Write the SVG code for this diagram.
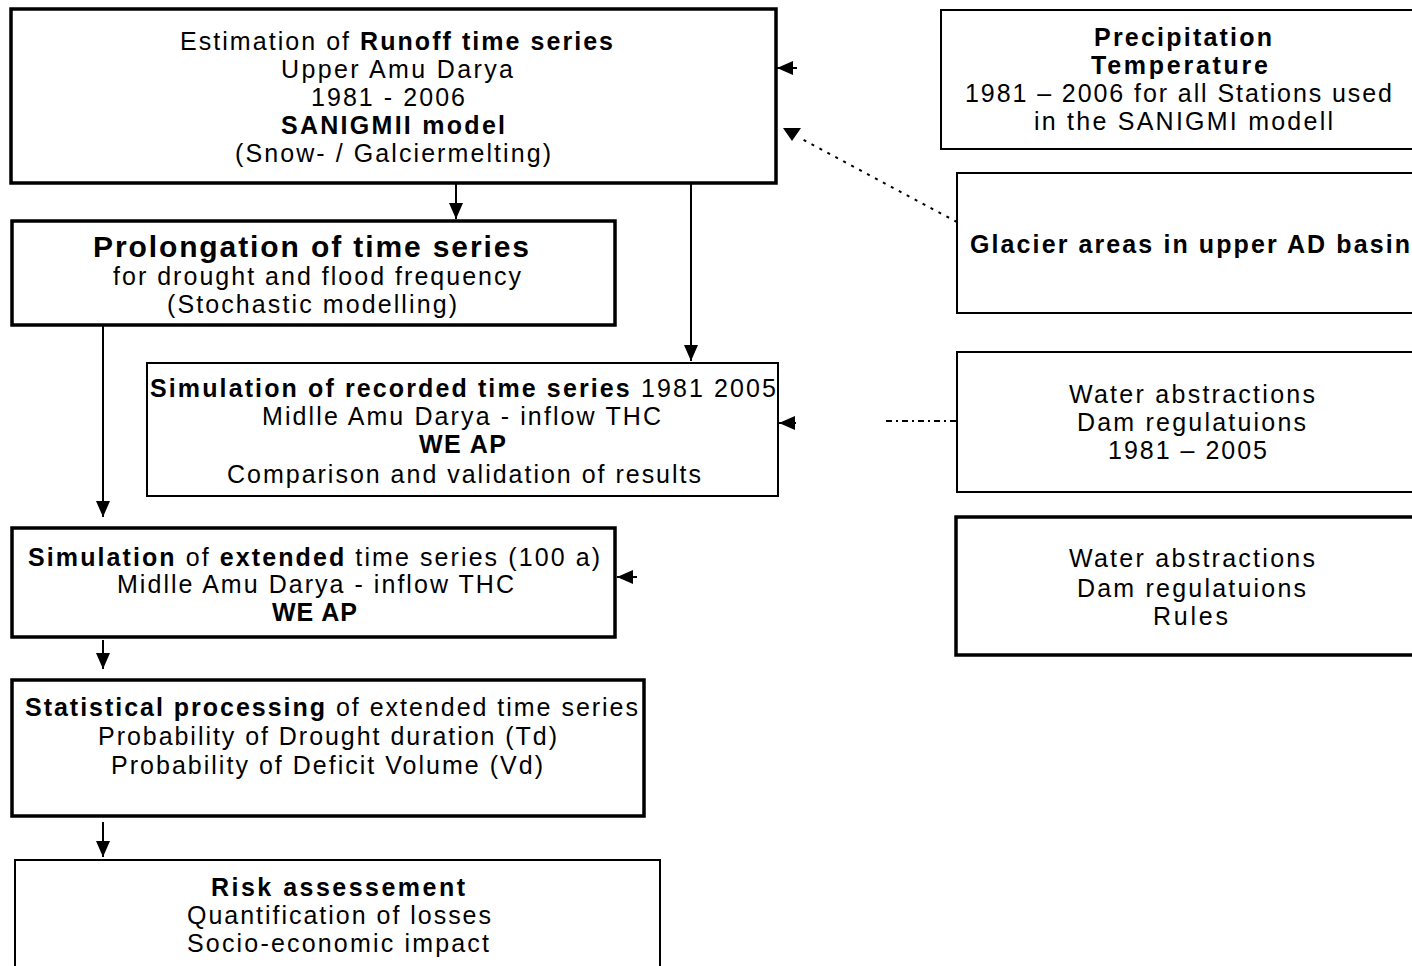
<svg xmlns="http://www.w3.org/2000/svg" width="1412" height="966" viewBox="0 0 1412 966">
<defs>
<style>
.box{fill:#fff;stroke:#000}
.thick{stroke-width:3.5}
.thin{stroke-width:2}
text{font-family:"Liberation Sans",Arial,sans-serif;font-size:25px;fill:#000}
.b{font-weight:bold}
.big{font-size:30px;font-weight:bold}
.ln{stroke:#000;stroke-width:2;fill:none}
.ah{fill:#000}
</style>
<marker id="arr" markerUnits="userSpaceOnUse" markerWidth="18" markerHeight="16" refX="16" refY="7" orient="auto">
<path d="M0,0 L16,7 L0,14 z" fill="#000"/>
</marker>
</defs>
<rect width="1412" height="966" fill="#fff"/>

<g id="connectors">
<line class="ln" x1="456" y1="183" x2="456" y2="219" marker-end="url(#arr)"/>
<line class="ln" x1="691" y1="183" x2="691" y2="361" marker-end="url(#arr)"/>
<line class="ln" x1="103" y1="325" x2="103" y2="517" marker-end="url(#arr)"/>
<line class="ln" x1="103" y1="640" x2="103" y2="669" marker-end="url(#arr)"/>
<line class="ln" x1="103" y1="822" x2="103" y2="857" marker-end="url(#arr)"/>
<line class="ln" x1="797" y1="68" x2="777" y2="68" marker-end="url(#arr)"/>
<line class="ln" x1="796" y1="423" x2="779" y2="423" marker-end="url(#arr)"/>
<line class="ln" x1="637" y1="577" x2="617" y2="577" marker-end="url(#arr)"/>
<line class="ln" x1="957" y1="222" x2="800" y2="138" stroke-dasharray="3,6" stroke-width="2"/>
<polygon class="ah" points="783,128 801,128 792,141"/>
<line class="ln" x1="886" y1="421" x2="957" y2="421" stroke-dasharray="6,4,2,4" stroke-width="1.5"/>
</g>

<g id="n-estimation">
<rect class="box thick" x="11" y="9" width="765" height="174"/>
<text x="180" y="50" textLength="433" lengthAdjust="spacing">Estimation of <tspan class="b">Runoff time series</tspan></text>
<text x="281" y="78" textLength="232" lengthAdjust="spacing">Upper Amu Darya</text>
<text x="311" y="106" textLength="154" lengthAdjust="spacing">1981 - 2006</text>
<text x="281" y="134" textLength="224" lengthAdjust="spacing" class="b">SANIGMII model</text>
<text x="235" y="162" textLength="316" lengthAdjust="spacing">(Snow- / Galciermelting)</text>
</g>

<g id="n-prolongation">
<rect class="box thick" x="12" y="221" width="603" height="104"/>
<text x="93" y="257" textLength="436" lengthAdjust="spacing" class="big">Prolongation of time series</text>
<text x="113" y="285" textLength="408" lengthAdjust="spacing">for drought and flood frequency</text>
<text x="167" y="313" textLength="290" lengthAdjust="spacing">(Stochastic modelling)</text>
</g>

<g id="n-recorded">
<rect class="box thin" x="147" y="363" width="631" height="133"/>
<text x="150" y="397" textLength="626" lengthAdjust="spacing"><tspan class="b">Simulation of recorded time series</tspan> 1981 2005</text>
<text x="262" y="425" textLength="399" lengthAdjust="spacing">Midlle Amu Darya - inflow THC</text>
<text x="419" y="453" textLength="87" lengthAdjust="spacing" class="b">WE AP</text>
<text x="227" y="483" textLength="474" lengthAdjust="spacing">Comparison and validation of results</text>
</g>

<g id="n-extended">
<rect class="box thick" x="12" y="528" width="603" height="109"/>
<text x="28" y="566" textLength="572" lengthAdjust="spacing"><tspan class="b">Simulation</tspan> of <tspan class="b">extended</tspan> time series (100 a)</text>
<text x="117" y="593" textLength="397" lengthAdjust="spacing">Midlle Amu Darya - inflow THC</text>
<text x="272" y="621" textLength="85" lengthAdjust="spacing" class="b">WE AP</text>
</g>

<g id="n-statistical">
<rect class="box thick" x="12" y="680" width="632" height="136"/>
<text x="25" y="716" textLength="613" lengthAdjust="spacing"><tspan class="b">Statistical processing</tspan> of extended time series</text>
<text x="98" y="745" textLength="459" lengthAdjust="spacing">Probability of Drought duration (Td)</text>
<text x="111" y="774" textLength="432" lengthAdjust="spacing">Probability of Deficit Volume (Vd)</text>
</g>

<g id="n-risk">
<rect class="box thin" x="15" y="860" width="645" height="130"/>
<text x="211" y="896" textLength="254" lengthAdjust="spacing" class="b">Risk assessement</text>
<text x="187" y="924" textLength="304" lengthAdjust="spacing">Quantification of losses</text>
<text x="187" y="952" textLength="302" lengthAdjust="spacing">Socio-economic impact</text>
</g>

<g id="n-precipitation">
<rect class="box thin" x="941" y="10" width="480" height="139"/>
<text x="1094" y="46" textLength="178" lengthAdjust="spacing" class="b">Precipitation</text>
<text x="1091" y="74" textLength="177" lengthAdjust="spacing" class="b">Temperature</text>
<text x="965" y="102" textLength="427" lengthAdjust="spacing">1981 – 2006 for all Stations used</text>
<text x="1034" y="130" textLength="299" lengthAdjust="spacing">in the SANIGMI modell</text>
</g>

<g id="n-glacier">
<rect class="box thin" x="957" y="173" width="465" height="140"/>
<text x="970" y="253" textLength="440" lengthAdjust="spacing" class="b">Glacier areas in upper AD basin</text>
</g>

<g id="n-water1">
<rect class="box thin" x="957" y="352" width="465" height="140"/>
<text x="1069" y="403" textLength="246" lengthAdjust="spacing">Water abstractions</text>
<text x="1077" y="431" textLength="229" lengthAdjust="spacing">Dam regulatuions</text>
<text x="1108" y="459" textLength="159" lengthAdjust="spacing">1981 – 2005</text>
</g>

<g id="n-water2">
<rect class="box thick" x="956" y="517" width="466" height="138"/>
<text x="1069" y="567" textLength="246" lengthAdjust="spacing">Water abstractions</text>
<text x="1077" y="597" textLength="229" lengthAdjust="spacing">Dam regulatuions</text>
<text x="1153" y="625" textLength="75" lengthAdjust="spacing">Rules</text>
</g>
</svg>
